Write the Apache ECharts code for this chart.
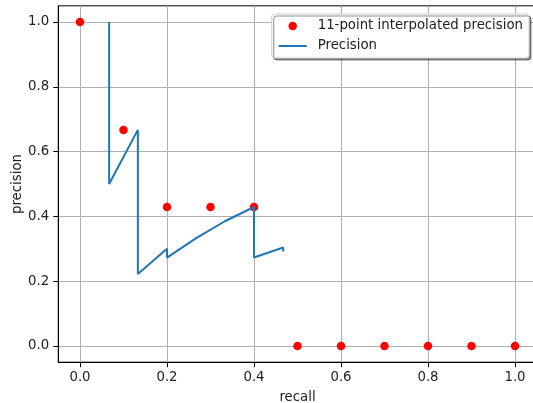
<!DOCTYPE html>
<html>
<head>
<meta charset="utf-8">
<script src="https://cdn.jsdelivr.net/npm/echarts@6/dist/echarts.min.js"></script>
<style>html,body{margin:0;padding:0;background:#fff}#c{width:533px;height:403px}</style>
</head>
<body>
<div id="c"></div>
<script>
// Precision curve (recall, precision)
const recall = [0.067, 0.067, 0.133, 0.133, 0.2, 0.2, 0.267, 0.333, 0.4, 0.4, 0.467, 0.467];
const precision = [1.0, 0.5, 0.667, 0.222, 0.3, 0.273, 0.333, 0.385, 0.429, 0.273, 0.304, 0.292];
// 11-point interpolated precision
const ipRecall = [0.0, 0.1, 0.2, 0.3, 0.4, 0.5, 0.6, 0.7, 0.8, 0.9, 1.0];
const ipPrecision = [1.0, 0.667, 0.429, 0.429, 0.429, 0.0, 0.0, 0.0, 0.0, 0.0, 0.0];
// tick labels
const xTicks = [0.0, 0.2, 0.4, 0.6, 0.8, 1.0];
const yTicks = [0.0, 0.2, 0.4, 0.6, 0.8, 1.0];

const FONT = 'DejaVu Sans';
const chart = echarts.init(document.getElementById('c'), null, {renderer: 'canvas'});
const axisCommon = {
  type: 'value',
  min: -0.05, max: 1.05,
  axisLine: {show: true, onZero: false, lineStyle: {color: '#000', width: 1}},
  axisTick: {show: true, inside: false, length: 5, lineStyle: {color: '#000', width: 1}},
  splitLine: {show: true, lineStyle: {color: '#b0b0b0', width: 1}},
  axisLabel: {color: '#222', fontFamily: FONT, fontSize: 13.3, formatter: v => v.toFixed(1)},
  nameTextStyle: {color: '#222', fontFamily: FONT, fontSize: 13.3},
  nameLocation: 'middle',
  nameMoveOverlap: false
};
chart.setOption({
  animation: false,
  grid: {left: 58.25, top: 5.8, width: 478.5, height: 356.4, outerBoundsMode: 'none', containLabel: false,
         show: true, borderColor: '#000', borderWidth: 1, backgroundColor: 'transparent'},
  xAxis: Object.assign({}, axisCommon, {
    name: 'recall', nameGap: 29,
    axisTick: Object.assign({}, axisCommon.axisTick, {customValues: xTicks}),
    axisLabel: Object.assign({}, axisCommon.axisLabel, {customValues: xTicks, margin: 9}),
  }),
  yAxis: Object.assign({}, axisCommon, {
    name: 'precision', nameGap: 34,
    axisTick: Object.assign({}, axisCommon.axisTick, {customValues: yTicks}),
    axisLabel: Object.assign({}, axisCommon.axisLabel, {customValues: yTicks, margin: 9}),
  }),
  legend: {
    orient: 'vertical', right: 4, top: 14,
    backgroundColor: '#fff', borderColor: '#cccccc', borderWidth: 1, borderRadius: 3,
    shadowColor: 'rgba(0,0,0,0.45)', shadowOffsetX: 2, shadowOffsetY: 2, shadowBlur: 0,
    padding: [5, 6, 5, 6], itemGap: 6, itemWidth: 28, itemHeight: 8.5,
    textStyle: {color: '#222', fontFamily: FONT, fontSize: 13.3, lineHeight: 14, padding: [0, 0, 0, 6]},
    data: [
      {name: '11-point interpolated precision'},
      {name: 'Precision', itemStyle: {opacity: 0}}
    ]
  },
  series: [
    {
      name: '11-point interpolated precision', type: 'scatter', z: 2,
      symbol: 'circle', symbolSize: 8.5,
      itemStyle: {color: '#ff0000', opacity: 1},
      data: ipRecall.map((r, i) => [r, ipPrecision[i]])
    },
    {
      name: 'Precision', type: 'line', z: 3, symbol: 'none', showSymbol: false,
      lineStyle: {color: '#1f77b4', width: 2}, itemStyle: {color: '#1f77b4'},
      data: recall.map((r, i) => [r, precision[i]])
    }
  ]
});
</script>
</body>
</html>
